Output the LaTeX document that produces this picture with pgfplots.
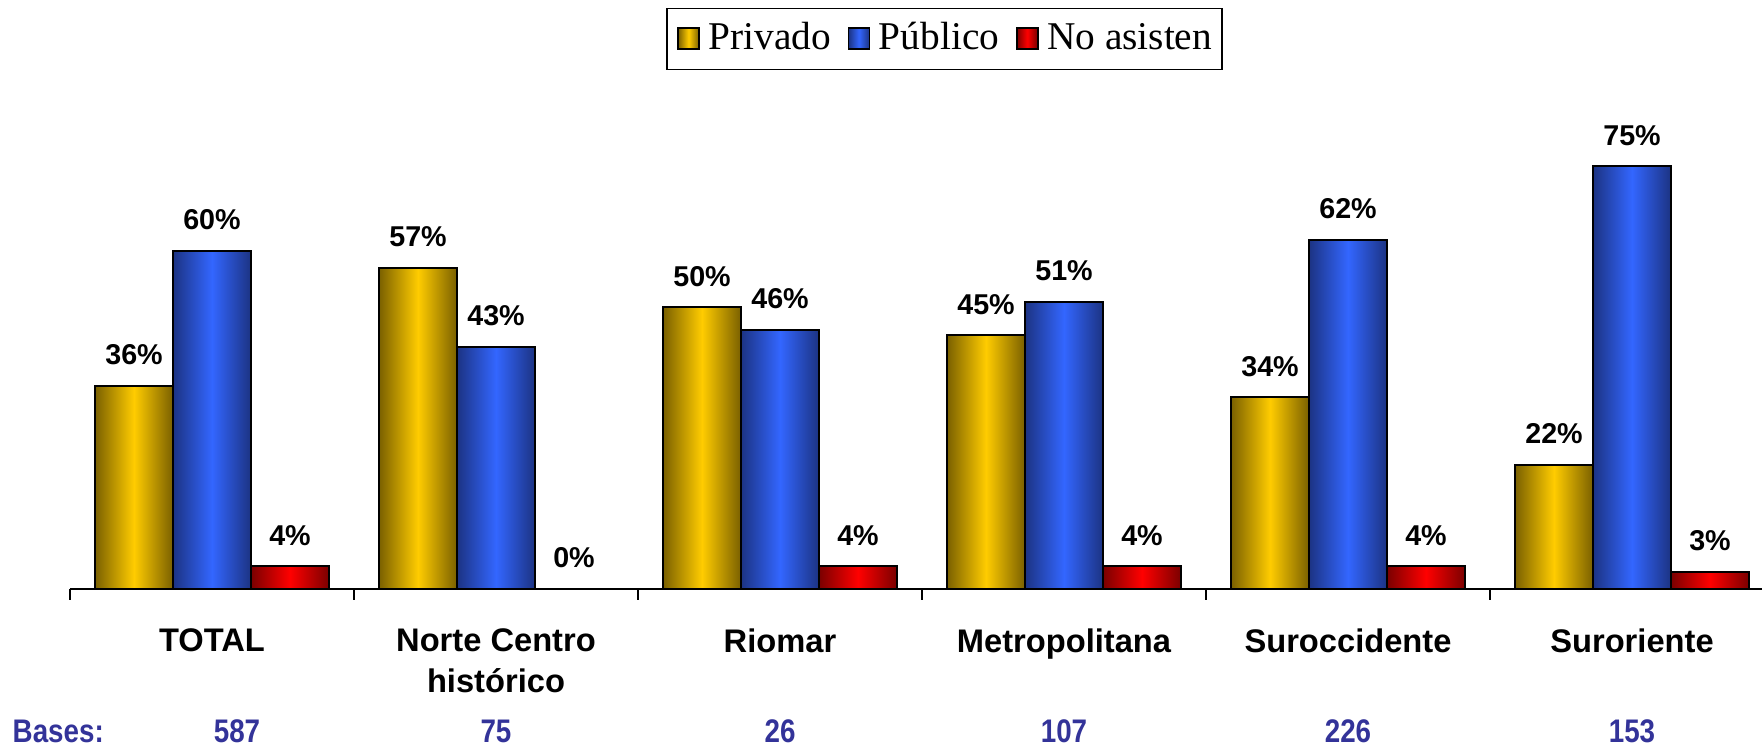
\documentclass[border=0pt]{standalone}
\usepackage{pgfplots}
\pgfplotsset{compat=1.18}
\usepackage{fontspec}
\setmainfont{Liberation Sans}
\newfontfamily\timesfont{Liberation Serif}
\definecolor{yc}{HTML}{FFCC00}
\definecolor{yd}{HTML}{7A6000}
\definecolor{bc}{HTML}{3366FF}
\definecolor{bd}{HTML}{1C3383}
\definecolor{rc}{HTML}{FF0000}
\definecolor{rd}{HTML}{7A0000}
\definecolor{basecol}{HTML}{333399}
\pgfplotsset{
  ys/.style={draw=black, line width=0.6pt, left color=yd, right color=yd, middle color=yc, bar shift=-23.4pt},
  bs/.style={draw=black, line width=0.6pt, left color=bd, right color=bd, middle color=bc, bar shift=0pt},
  rs/.style={draw=black, line width=0.6pt, left color=rd, right color=rd, middle color=rc, bar shift=23.4pt},
}
\begin{document}
\begin{tikzpicture}
\begin{axis}[
  at={(0,0)}, anchor=south west,
  scale only axis, width=507.6pt, height=169.1pt,
  xmin=0, xmax=5.9577, ymin=0, ymax=100,
  axis x line*=bottom, axis y line=none,
  x axis line style={line width=0.5pt, black},
  xtick={0,1,2,3,4,5}, xticklabels={}, tick align=outside,
  major tick length=3.3pt, xtick style={line width=0.5pt, black},
  ytick=\empty,
  ybar, bar width=23.4pt,
  clip=false,
  /pgf/number format/assume math mode=true,
  nodes near coords={\pgfmathprintnumber{\pgfplotspointmeta}\%},
  every node near coord/.append style={font=\bfseries\fontsize{8.6}{10}\selectfont, text=black, anchor=center, yshift=9.3pt, inner sep=0pt},
  legend columns=-1,
  legend style={at={(axis cs:3.08,97.6)}, anchor=center, draw=black, line width=0.5pt,
    font=\timesfont\fontsize{11.8}{14}\selectfont,
    nodes={inner sep=0pt, text height=8.7pt, text depth=2.4pt},
    /tikz/every odd column/.append style={column sep=2.6pt},
    /tikz/every even column/.append style={column sep=5pt},
    inner xsep=3pt, inner ysep=3.6pt},
  legend image code/.code={\draw[#1, line width=0.5pt] (0pt,-3.0pt) rectangle (6.3pt,3.3pt);},
]
% first group carries the legend entries
\addplot[ys] coordinates {(0.5,36)};
\addlegendentry{Privado}
\addplot[bs] coordinates {(0.5,60)};
\addlegendentry{Público}
\addplot[rs] coordinates {(0.5,4)};
\addlegendentry{No asisten}
% Privado
\addplot[ys, forget plot] coordinates {(1.5,57)};
\addplot[ys, forget plot] coordinates {(2.5,50)};
\addplot[ys, forget plot] coordinates {(3.5,45)};
\addplot[ys, forget plot] coordinates {(4.5,34)};
\addplot[ys, forget plot] coordinates {(5.5,22)};
% Publico
\addplot[bs, forget plot] coordinates {(1.5,43)};
\addplot[bs, forget plot] coordinates {(2.5,46)};
\addplot[bs, forget plot] coordinates {(3.5,51)};
\addplot[bs, forget plot] coordinates {(4.5,62)};
\addplot[bs, forget plot] coordinates {(5.5,75)};
% No asisten
\addplot[rs, forget plot] coordinates {(1.5,0)};
\addplot[rs, forget plot] coordinates {(2.5,4)};
\addplot[rs, forget plot] coordinates {(3.5,4)};
\addplot[rs, forget plot] coordinates {(4.5,4)};
\addplot[rs, forget plot] coordinates {(5.5,3)};

\tikzset{cat/.style={anchor=north, align=center, inner sep=0pt, yshift=-11.7pt, font=\bfseries\fontsize{9.8}{12.3}\selectfont}}
\node[cat] at (axis cs:0.5,0) {TOTAL};
\node[cat] at (axis cs:1.5,0) {Norte Centro\\histórico};
\node[cat] at (axis cs:2.5,0) {Riomar};
\node[cat] at (axis cs:3.5,0) {Metropolitana};
\node[cat] at (axis cs:4.5,0) {Suroccidente};
\node[cat] at (axis cs:5.5,0) {Suroriente};

\tikzset{bas/.style={anchor=base, inner sep=0pt, yshift=-46.2pt, text=basecol, font=\bfseries\fontsize{9.8}{11}\selectfont}}
\node[bas, anchor=base west] at (axis cs:-0.204,0) {\scalebox{0.85}[1]{Bases:}};
\node[bas] at (axis cs:0.588,0) {\scalebox{0.85}[1]{587}};
\node[bas] at (axis cs:1.5,0) {\scalebox{0.85}[1]{75}};
\node[bas] at (axis cs:2.5,0) {\scalebox{0.85}[1]{26}};
\node[bas] at (axis cs:3.5,0) {\scalebox{0.85}[1]{107}};
\node[bas] at (axis cs:4.5,0) {\scalebox{0.85}[1]{226}};
\node[bas] at (axis cs:5.5,0) {\scalebox{0.85}[1]{153}};
\end{axis}
\pgfresetboundingbox
\path[use as bounding box] (-21pt,-47.1pt) rectangle (507.6pt,176.7pt);
\end{tikzpicture}
\end{document}
